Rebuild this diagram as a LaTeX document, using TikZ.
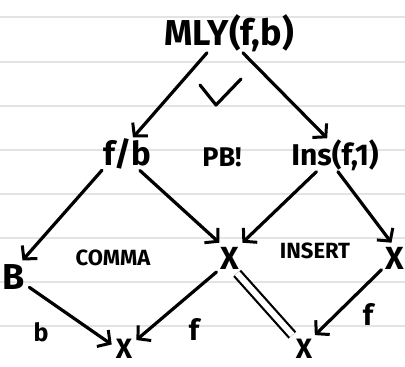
\documentclass[tikz,border=0pt]{standalone}
\usepackage{fontspec}
\setmainfont{Fira Sans}
\usetikzlibrary{arrows.meta, positioning, calc}

\begin{document}
\begin{tikzpicture}[x=1pt, y=-1pt,
    lbl/.style={inner sep=1pt, font=\fontsize{#1}{#1}\selectfont\bfseries},
    lbl/.default=30,
    obj/.style={lbl=#1, inner sep=4pt},
    arr/.style={line width=3.2pt, line cap=round, -{Straight Barb[length=9pt, width=20pt, line width=3pt]}},
    eqline/.style={line width=2.2pt, double distance=6pt, line cap=butt},
    rule/.style={gray!22, line width=1.2pt}]
    \useasboundingbox (0,0) rectangle (405,367);
    % ruled paper
    \foreach \y in {17,62,106,150,194,238,282,326}
        \draw[rule] (0,\y) -- (405,\y);
    % objects
    \node[lbl=36] (mly) at (229,33) {MLY(f,b)};
    \node[lbl=33] (fb) at (127,154) {f/b};
    \node[lbl=27] (pb) at (222,157) {PB!};
    \node[lbl=30] (ins) at (335,155) {Ins(f,1)};
    \node[obj=36] (B) at (14,277) {B};
    \node[lbl=22] (comma) at (113,258) {COMMA};
    \node[obj=32] (xm) at (230,258) {X};
    \node[lbl=22] (insert) at (315,251) {INSERT};
    \node[obj=32] (xr) at (395,258) {X};
    \node[obj=28] (xbl) at (124,349) {X};
    \node[obj=28] (xbr) at (304,349) {X};
    % edge labels
    \node[lbl=25] (lb) at (41,332) {b};
    \node[lbl=29] (lf) at (194,329) {f};
    \node[lbl=29] (lfr) at (368,314) {f};
    % tick
    \draw[line width=3.2pt, line join=round, line cap=round] (200,85) -- (216,105) -- (241,79);
    % arrows
    \draw[arr] (mly.222) -- (fb.70);
    \draw[arr] (mly.305) -- (ins.115);
    \draw[arr] (fb.213) -- (B.63);
    \draw[arr] (fb.308) -- (xm.125);
    \draw[arr] (ins.222) -- (xm.51);
    \draw[arr] (ins.280) -- (xr.103);
    \draw[arr] (B.326) -- (xbl.160);
    \draw[arr] (xm.226) -- (xbl.36);
    \draw[arr] (xr.221) -- (xbr.52);
    \draw[eqline] (xm.295) -- (xbr.130);
\end{tikzpicture}
\end{document}
